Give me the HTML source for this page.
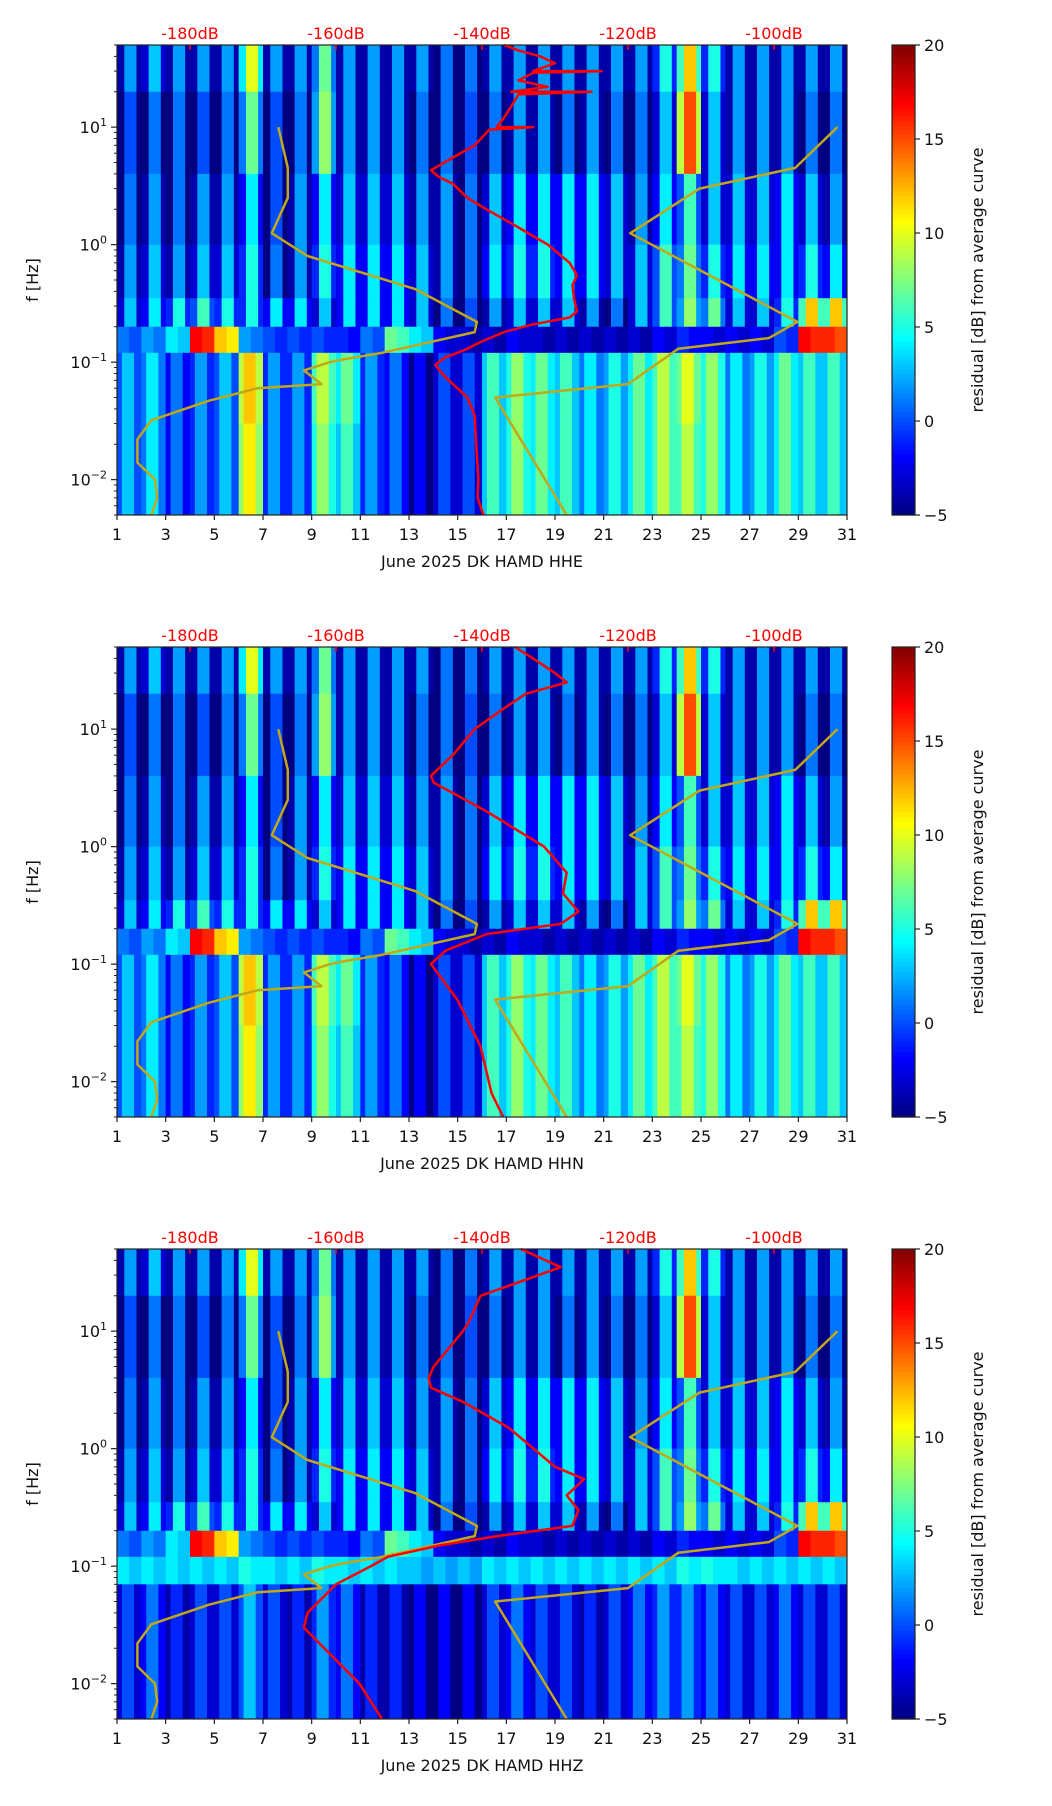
<!DOCTYPE html>
<html><head><meta charset="utf-8"><style>
body{margin:0;background:#fff;}
svg{display:block;font-family:"DejaVu Sans","Liberation Sans",sans-serif;}
</style></head><body>
<svg id="fig" width="1052" height="1806" viewBox="0 0 1052 1806" xmlns="http://www.w3.org/2000/svg"></svg>
<script>
// ---- data ----
const days = [1,2,3,4,5,6,7,8,9,10,11,12,13,14,15,16,17,18,19,20,21,22,23,24,25,26,27,28,29,30];
const dayTicks = [1,3,5,7,9,11,13,15,17,19,21,23,25,27,29,31];
const dbTicks = [-180,-160,-140,-120,-100];
const cbTicks = [20,15,10,5,0,-5];
const freqDecades = [-2,-1,0,1];
const bandEdges = [50,20,4,1,0.35,0.2,0.12,0.03,0.005];
const bandEdges3 = [50,20,4,1,0.35,0.2,0.12,0.07,0.005];
const bandA = [2,3,2,2,2,10,2,2,7,2,2,2,2,1,1,2,2,2,2,2,2,2,5,12,5,2,2,2,2,2];
const bandB = [0,1,1,0,1,7,0,1,8,2,2,2,1,1,0,1,2,2,1,2,1,1,3,15,3,2,2,2,1,1];
const bandC = [1,2,1,2,2,4,0,2,4,3,3,3,2,2,1,3,4,4,4,4,3,2,4,6,3,3,3,4,3,2];
const bandD = [2,3,2,3,3,5,1,2,5,4,4,4,3,2,1,4,5,5,4,4,3,3,6,7,5,4,4,4,5,4];
const bandE = [3,4,5,6,5,5,4,4,3,4,4,4,3,1,0,2,3,3,3,2,1,3,6,8,7,3,3,5,12,12];
const bandF = [1,2,4,17,12,2,0,0,0,-1,1,7,4,-2,-3,-3,-2,-3,-3,-3,-3,-3,-2,-1,-2,-2,-2,0,17,16];
const bandG = [3,4,1,2,3,12,2,2,9,7,2,1,-2,0,0,6,8,7,6,4,5,7,9,10,8,4,5,7,6,6];
const bandH = [3,4,1,2,3,11,2,2,8,6,2,1,-2,0,0,6,8,7,6,4,5,7,9,9,8,4,5,7,6,6];
const bandG3 = [4,4,4,4,4,5,4,4,5,4,4,4,3,3,3,4,4,4,4,4,4,4,4,5,5,4,4,4,4,4];
const bandH3 = [0,1,-1,0,0,3,0,-1,2,1,-1,-1,-2,-2,-2,0,1,0,0,-1,0,1,2,2,1,0,0,1,0,0];
const redF1 = [50,45,40,35,30,30,29,25,22,20,20,19,15,12,10,10,9.5,7,5.5,4.3,3.8,3.3,2.5,2,1.4,1,0.7,0.55,0.45,0.35,0.27,0.24,0.21,0.18,0.15,0.125,0.11,0.095,0.08,0.065,0.05,0.035,0.02,0.01,0.007,0.005];
const redDb1 = [-137,-135,-132,-130,-133,-123.6,-133,-135,-131,-136,-125,-135,-136,-137,-138,-133,-139,-141,-144,-147,-146,-144,-142,-139.4,-135,-131,-128,-127,-127.6,-127.4,-127,-128,-133,-137,-140,-142.6,-145,-146.4,-145.5,-144,-142,-141,-140.8,-140.5,-140.6,-139.8];
const redF2 = [50,40,30,25,20,15,10,6,4,3.5,2,1,0.6,0.4,0.28,0.22,0.18,0.13,0.1,0.05,0.02,0.008,0.005];
const redDb2 = [-135.5,-133,-130,-128.4,-134,-137,-141,-144,-147,-146.6,-139.4,-131.5,-128.4,-128.9,-126.8,-129.2,-139.4,-145,-147,-143.4,-140.2,-138.7,-137.1];
const redF3 = [50,35,20,12,10,5,4,3.3,2.5,1.5,0.7,0.55,0.4,0.3,0.22,0.18,0.15,0.12,0.1,0.07,0.04,0.03,0.02,0.01,0.006,0.005];
const redDb3 = [-134.7,-129.2,-140.2,-141.8,-142.6,-146.6,-147.3,-147,-142.6,-136.3,-130,-126,-128.4,-126.8,-127.6,-137.9,-145.8,-152.9,-155.2,-160,-163.9,-164.4,-161.6,-156.8,-154.5,-153.7];
const nlnmF = [10,4.5,2.5,1.25,0.8,0.42,0.22,0.18,0.12,0.105,0.1,0.085,0.065,0.06,0.047,0.032,0.022,0.014,0.01,0.007,0.005];
const nlnmDb = [-167.9,-166.6,-166.6,-168.8,-163.9,-149.2,-140.7,-141,-153.7,-159.2,-160.8,-164.4,-162,-170.7,-177.4,-185.3,-187.2,-187.2,-184.8,-184.5,-185.3];
const nhnmF = [10,4.5,3,1.25,0.22,0.16,0.13,0.065,0.05,0.005];
const nhnmDb = [-91.3,-97.1,-110.2,-119.7,-96.8,-100.7,-113.1,-120,-138.2,-128.4];

// ---- layout ----
const L=117,R=847,H=470,CBX=892,CBW=23;
const tops=[45,647,1249];
const comps=["HHE","HHN","HHZ"];
const svg=document.getElementById('fig');
const NS="http://www.w3.org/2000/svg";
function mk(tag,attrs,parent){const e=document.createElementNS(NS,tag);for(const k in attrs)e.setAttribute(k,attrs[k]);(parent||svg).appendChild(e);return e;}
function jet(v){let t=(v+5)/25;t=Math.max(0,Math.min(1,t));
 const r=Math.max(0,Math.min(1,1.5-Math.abs(4*t-3))),g=Math.max(0,Math.min(1,1.5-Math.abs(4*t-2))),b=Math.max(0,Math.min(1,1.5-Math.abs(4*t-1)));
 return `rgb(${Math.round(r*255)},${Math.round(g*255)},${Math.round(b*255)})`;}
const xDay=d=>L+(d-1)/30*(R-L);
const xDb=db=>xDay(4+(db+180)*0.3);
function yF(top,f){return top+(Math.log10(50)-Math.log10(f))/4*H;}

tops.forEach((T,pi)=>{
 const g=mk('g',{});
 
 
 const hm=mk('g',{},g);
 
 
 const edges=pi===2?bandEdges3:bandEdges;
 const bands=pi===2?[bandA,bandB,bandC,bandD,bandE,bandF,bandG3,bandH3]:[bandA,bandB,bandC,bandD,bandE,bandF,bandG,bandH];
 bands.forEach((arr,bi)=>{
  const y1=yF(T,edges[bi]),y2=yF(T,edges[bi+1]);
  const diurnal=bi<5;
  days.forEach((d,di)=>{
   const v=arr[di];
   const segs=diurnal?[[0,0.3,v-6],[0.3,0.8,v],[0.8,1,v-6]]:(bi>=6&&!(pi===2&&bi===6)?[[0,0.2,v-3],[0.2,0.7,v],[0.7,1,v-3]]:[[0,0.5,v],[0.5,1,v-1]]);
   segs.forEach(s=>{
    const r=mk('rect',{x:xDay(d+s[0]),y:y1,width:xDay(d+s[1])-xDay(d+s[0])+0.5,height:y2-y1+0.5,fill:jet(s[2])},hm);
    
    
   });
  });
 });
 function line(fs,dbs,color,w,name){
  const p=fs.map((f,i)=>`${xDb(dbs[i]).toFixed(1)},${yF(T,f).toFixed(1)}`).join(' ');
  const e=mk('polyline',{points:p,fill:'none',stroke:color,'stroke-width':w,'stroke-linejoin':'round'},g);
  
  
 }
 line(nlnmF,nlnmDb,'#c0a818',2.5,'nlnm-curve');
 line(nhnmF,nhnmDb,'#c0a818',2.5,'nhnm-curve');
 const rf=[redF1,redF2,redF3][pi],rd=[redDb1,redDb2,redDb3][pi];
 line(rf,rd,'#ff0000',2.5,'mean-psd-curve');
 const fr=mk('rect',{x:L,y:T,width:R-L,height:H,fill:'none',stroke:'#222','stroke-width':1.2},g);
 
 
 dayTicks.forEach(d=>{
  const x=xDay(d);
  mk('line',{x1:x,x2:x,y1:T+H,y2:T+H+5,stroke:'#222','stroke-width':1.2},g);
  const t=mk('text',{x:x,y:T+H+25,'font-size':16,'text-anchor':'middle',fill:'#111'},g);
  t.textContent=d;
  
  
 });
 const xl=mk('text',{x:(L+R)/2,y:T+H+52,'font-size':16,'text-anchor':'middle',fill:'#111'},g);
 xl.textContent='June 2025 DK HAMD  '+comps[pi];
 
 
 dbTicks.forEach(db=>{
  const x=xDb(db);
  mk('line',{x1:x,x2:x,y1:T,y2:T+5,stroke:'#f00','stroke-width':1.5},g);
  const t=mk('text',{x:x,y:T-6,'font-size':16,'text-anchor':'middle',fill:'#ff0000'},g);
  t.textContent=db+'dB';
  
  
 });
 freqDecades.forEach(e=>{
  const y=yF(T,Math.pow(10,e));
  mk('line',{x1:L-6,x2:L,y1:y,y2:y,stroke:'#222','stroke-width':1.2},g);
  const t=mk('text',{x:L-10,y:y+6,'font-size':16,'text-anchor':'end',fill:'#111'},g);
  t.innerHTML='10<tspan dy="-7" font-size="11">'+(e<0?'\u2212'+(-e):e)+'</tspan>';
  
  
  for(let m=2;m<10;m++){const f=m*Math.pow(10,e);if(f>50)continue;const ym=yF(T,f);
   mk('line',{x1:L-3,x2:L,y1:ym,y2:ym,stroke:'#222','stroke-width':1},g);}
 });
 [0.005,0.006,0.007,0.008,0.009].forEach(f=>{const ym=yF(T,f);mk('line',{x1:L-3,x2:L,y1:ym,y2:ym,stroke:'#222','stroke-width':1},g);});
 const yl=mk('text',{x:0,y:0,'font-size':16,'text-anchor':'middle',fill:'#111',transform:`translate(38,${T+H/2}) rotate(-90)`},g);
 yl.textContent='f [Hz]';
 
 
 const cb=mk('g',{},g);
 
 
 for(let i=0;i<100;i++){
  const v=-5+25*(i+0.5)/100;
  mk('rect',{x:CBX,y:T+H-(i+1)*H/100,width:CBW,height:H/100+0.6,fill:jet(v)},cb);
 }
 mk('rect',{x:CBX,y:T,width:CBW,height:H,fill:'none',stroke:'#222','stroke-width':1.2},cb);
 cbTicks.forEach(v=>{
  const y=T+H-(v+5)/25*H;
  mk('line',{x1:CBX+CBW,x2:CBX+CBW+5,y1:y,y2:y,stroke:'#222','stroke-width':1.2},cb);
  const t=mk('text',{x:CBX+CBW+9,y:y+6,'font-size':16,fill:'#111'},cb);
  t.textContent=v<0?'\u2212'+(-v):v;
  
  
 });
 const cl=mk('text',{x:0,y:0,'font-size':16,'text-anchor':'middle',fill:'#111',transform:`translate(983,${T+H/2}) rotate(-90)`},g);
 cl.textContent='residual [dB] from average curve';
 
 
});
</script>
</body></html>
